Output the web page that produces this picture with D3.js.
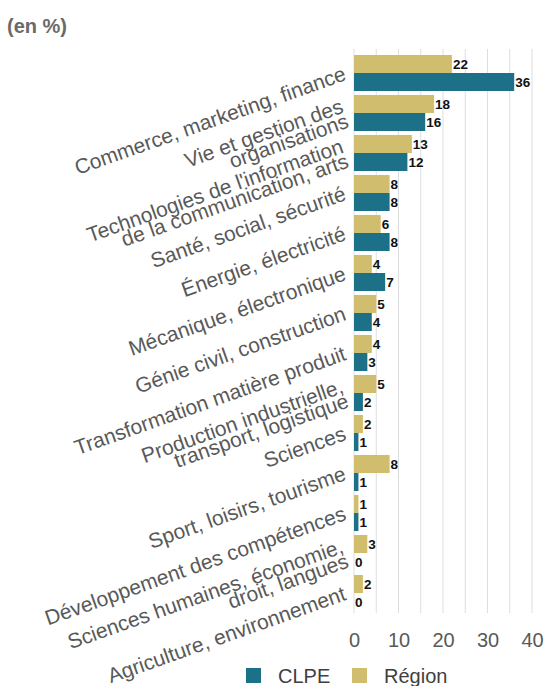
<!DOCTYPE html>
<html>
<head>
<meta charset="utf-8">
<script src="https://cdn.jsdelivr.net/npm/d3@7"></script>
<style>
  html, body { margin: 0; padding: 0; background: #fff; }
  svg { display: block; font-family: "Liberation Sans", Arial, sans-serif; }
</style>
</head>
<body>
<svg id="chart" width="544" height="686"></svg>
<script>
const categories = [
  "Commerce, marketing, finance",
  "Vie et gestion des\norganisations",
  "Technologies de l'information\nde la communication, arts",
  "Santé, social, sécurité",
  "Énergie, électricité",
  "Mécanique, électronique",
  "Génie civil, construction",
  "Transformation matière produit",
  "Production industrielle,\ntransport, logistique",
  "Sciences",
  "Sport, loisirs, tourisme",
  "Développement des compétences",
  "Sciences humaines, économie,\ndroit, langues",
  "Agriculture, environnement"
];
const clpeValues   = [36, 16, 12, 8, 8, 7, 4, 3, 2, 1, 1, 1, 0, 0];
const regionValues = [22, 18, 13, 8, 6, 4, 5, 4, 5, 2, 8, 1, 3, 2];
const seriesNames  = ["CLPE", "Région"];
const seriesColors = ["#1c7189", "#d0be6e"];
const xTickValues  = [0, 10, 20, 30, 40];
const gridValues   = [0, 5, 10, 15, 20, 25, 30, 35, 40];
const titleText    = "(en %)";

const svg = d3.select("#chart");

const x = d3.scaleLinear().domain([0, 40]).range([354, 532]);
const y = d3.scaleBand().domain(categories).range([53, 613])
  .paddingInner(0.1).paddingOuter(0.05);
const sub = d3.scaleBand().domain(["Région", "CLPE"]).range([0, y.bandwidth()]);
const color = d3.scaleOrdinal().domain(seriesNames).range(seriesColors);

// title
svg.append("text")
  .attr("x", 7).attr("y", 33)
  .attr("font-size", 20).attr("font-weight", "bold")
  .attr("fill", "#6a6a6a")
  .text(titleText);

// gridlines
svg.append("g").selectAll("line").data(gridValues).join("line")
  .attr("x1", d => x(d)).attr("x2", d => x(d))
  .attr("y1", 49).attr("y2", 613)
  .attr("stroke", "#dedede").attr("stroke-width", 1);

// rows data
const rows = categories.map((c, i) => ({
  cat: c,
  vals: [
    { key: "Région", v: regionValues[i] },
    { key: "CLPE", v: clpeValues[i] }
  ]
}));

const rowG = svg.append("g").selectAll("g").data(rows).join("g")
  .attr("transform", d => `translate(0,${y(d.cat)})`);

rowG.selectAll("rect").data(d => d.vals).join("rect")
  .attr("x", x(0))
  .attr("y", d => sub(d.key))
  .attr("width", d => x(d.v) - x(0))
  .attr("height", sub.bandwidth())
  .attr("fill", d => color(d.key));

rowG.selectAll("text.val").data(d => d.vals).join("text")
  .attr("class", "val")
  .attr("x", d => x(d.v) + 1)
  .attr("y", d => sub(d.key) + sub.bandwidth() / 2)
  .attr("dy", "0.36em")
  .attr("font-size", 13.5).attr("font-weight", "bold")
  .attr("fill", "#111")
  .text(d => d3.format("d")(d.v));

// category labels (rotated)
const lineH = 15.5;
const labG = svg.append("g").selectAll("text").data(categories).join("text")
  .attr("transform", d => `translate(345,${y(d) + y.bandwidth() / 2}) rotate(-19.5)`)
  .attr("text-anchor", "end")
  .attr("font-size", 21)
  .attr("fill", "#595959");
labG.each(function(d) {
  const lines = d.split("\n");
  const t = d3.select(this);
  const y0 = -(lines.length - 1) * lineH / 2 + 7;
  lines.forEach((ln, i) => {
    t.append("tspan").attr("x", 0).attr("y", y0 + i * lineH).text(ln);
  });
});

// x axis tick labels
const xAxis = d3.axisBottom(x).tickValues(xTickValues).tickSize(0).tickPadding(0)
  .tickFormat(d3.format("d"));
const ax = svg.append("g").attr("transform", "translate(0,633)").call(xAxis);
ax.select(".domain").remove();
ax.selectAll("text")
  .attr("font-size", 20)
  .attr("font-family", "Liberation Sans, Arial, sans-serif")
  .attr("fill", "#595959");

// legend
const legendX = [246, 352];
const leg = svg.append("g").selectAll("g").data(seriesNames).join("g")
  .attr("transform", (d, i) => `translate(${legendX[i]},668)`);
leg.append("rect").attr("width", 15).attr("height", 15).attr("fill", d => color(d));
leg.append("text").attr("x", 32).attr("y", 15)
  .attr("font-size", 20).attr("fill", "#404040").text(d => d);
</script>
</body>
</html>
